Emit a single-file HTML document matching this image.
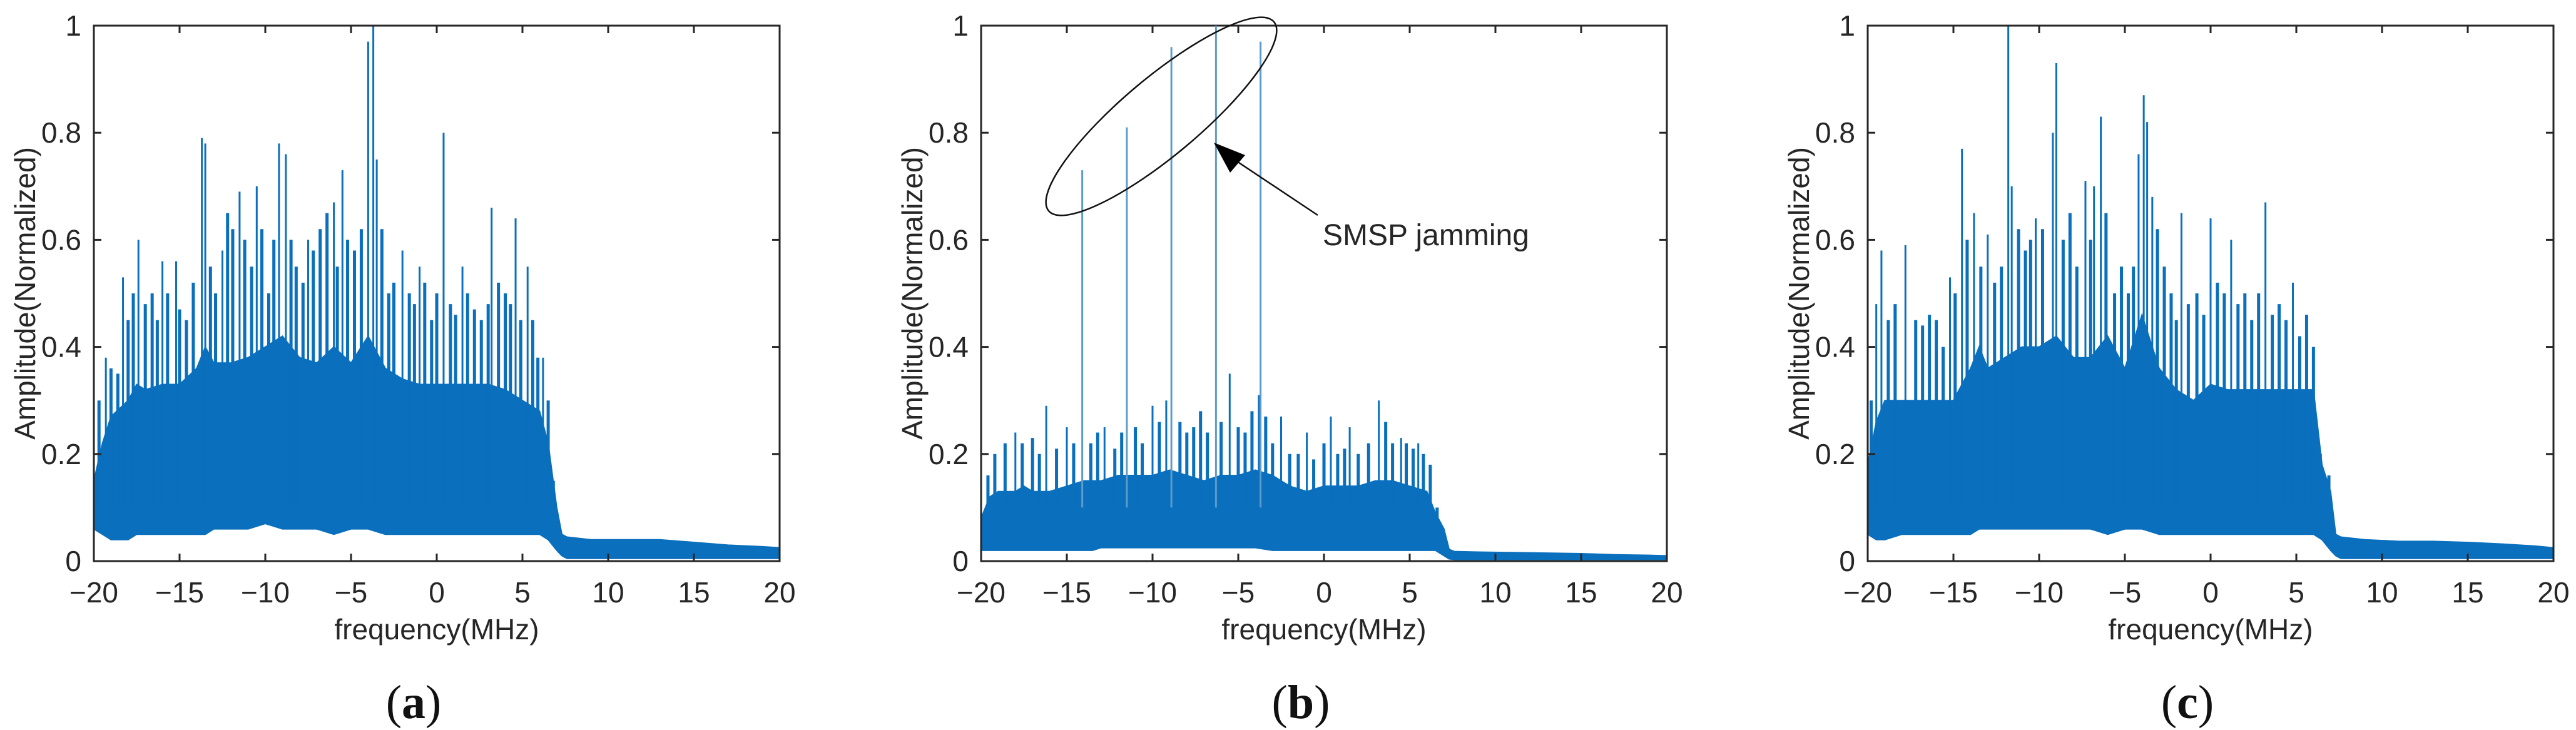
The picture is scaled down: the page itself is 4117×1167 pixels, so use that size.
<!DOCTYPE html>
<html><head><meta charset="utf-8"><style>
html,body{margin:0;padding:0;background:#fff;}
svg{display:block;}
text{font-family:"Liberation Sans",sans-serif;fill:#262626;}
text.cap{font-family:"Liberation Serif",serif;fill:#111;}
</style></head><body>
<svg id="fig" width="4117" height="1167" viewBox="0 0 4117 1167" xmlns="http://www.w3.org/2000/svg"></svg>
<script>
// ---- data ----
const xTicks = [-20,-15,-10,-5,0,5,10,15,20];
const yTicks = [0,0.2,0.4,0.6,0.8,1];
const yTickLabels = ["0","0.2","0.4","0.6","0.8","1"];
const envFreq = [-20,-19.5,-19,-18,-17.5,-17,-16,-15,-14,-13.5,-13,-12,-11,-10,-9,-8,-7,-6,-5,-4,-3,-2,-1,0,1,2,3,4,5,6,6.5,7,7.3,7.6,9,11,13,15,17,19,20];
const topA = [0.15,0.22,0.27,0.3,0.33,0.32,0.33,0.33,0.36,0.4,0.37,0.37,0.38,0.4,0.42,0.38,0.37,0.4,0.37,0.42,0.36,0.34,0.33,0.33,0.33,0.33,0.33,0.32,0.3,0.28,0.22,0.1,0.05,0.045,0.04,0.04,0.04,0.035,0.03,0.027,0.025];
const botA = [0.06,0.05,0.04,0.04,0.05,0.05,0.05,0.05,0.05,0.05,0.06,0.06,0.06,0.07,0.06,0.06,0.06,0.05,0.06,0.06,0.05,0.05,0.05,0.05,0.05,0.05,0.05,0.05,0.05,0.05,0.04,0.02,0.01,0.005,0.005,0.005,0.005,0.005,0.005,0.005,0.005];
const topB = [0.08,0.12,0.13,0.13,0.14,0.13,0.13,0.14,0.15,0.15,0.15,0.16,0.16,0.16,0.17,0.16,0.15,0.16,0.16,0.17,0.16,0.14,0.13,0.14,0.14,0.14,0.15,0.15,0.14,0.13,0.09,0.06,0.022,0.018,0.017,0.016,0.015,0.014,0.012,0.011,0.01];
const botB = [0.02,0.02,0.02,0.02,0.02,0.02,0.02,0.02,0.02,0.02,0.025,0.025,0.025,0.025,0.025,0.025,0.025,0.025,0.025,0.025,0.02,0.02,0.02,0.02,0.02,0.02,0.02,0.02,0.02,0.02,0.02,0.01,0.004,0.003,0.003,0.003,0.003,0.003,0.003,0.003,0.003];
const topC = [0.18,0.26,0.3,0.3,0.3,0.3,0.3,0.3,0.36,0.4,0.36,0.38,0.4,0.4,0.42,0.38,0.38,0.42,0.36,0.46,0.36,0.32,0.3,0.33,0.32,0.32,0.32,0.32,0.32,0.32,0.18,0.13,0.05,0.045,0.04,0.037,0.037,0.035,0.032,0.028,0.025];
const botC = [0.05,0.04,0.04,0.05,0.05,0.05,0.05,0.05,0.05,0.06,0.06,0.06,0.06,0.06,0.06,0.06,0.06,0.05,0.06,0.06,0.05,0.05,0.05,0.05,0.05,0.05,0.05,0.05,0.05,0.05,0.04,0.02,0.01,0.005,0.005,0.005,0.005,0.005,0.005,0.005,0.005];
const spikeFreqA = [-19.3,-18.3,-17.4,-16,-15.2,-13.7,-13.5,-12.5,-11.5,-10.5,-9.2,-8.8,-7.5,-6,-5.5,-4,-3.7,-3.5,-2,-1,0.4,1.5,3.2,4.6,5.3,6.2];
const spikeAmpA  = [0.38,0.53,0.60,0.56,0.56,0.79,0.78,0.58,0.69,0.70,0.78,0.76,0.60,0.67,0.73,0.97,1.0,0.75,0.58,0.55,0.80,0.55,0.66,0.64,0.55,0.38];
const midFreqA = [-19.7,-19,-18.6,-18,-17.7,-17,-16.6,-16.3,-15.7,-15,-14.6,-14.2,-13.2,-12.9,-12.2,-11.9,-11.2,-10.8,-10.2,-9.8,-9.5,-8.5,-8.2,-7.8,-7.2,-6.8,-6.4,-5.8,-5.2,-4.8,-4.4,-3.2,-2.8,-2.5,-1.6,-1.3,-0.7,-0.3,0,0.8,1.1,1.8,2.2,2.6,3,3.6,4,4.3,4.9,5.6,5.9,6.5,6.8];
const midAmpA  = [0.3,0.36,0.35,0.45,0.5,0.48,0.5,0.45,0.5,0.47,0.45,0.52,0.55,0.5,0.65,0.62,0.6,0.55,0.62,0.5,0.6,0.6,0.55,0.52,0.58,0.62,0.65,0.55,0.6,0.58,0.62,0.62,0.5,0.52,0.5,0.48,0.52,0.45,0.5,0.48,0.46,0.5,0.47,0.45,0.48,0.52,0.5,0.48,0.45,0.45,0.38,0.3,0.15];
const spikeFreqB = [-18,-16.2,-15,-12.8,-10,-9.2,-5.5,-3.8,-2.5,-1,0.4,1.5,3.2,4.5,5.5];
const spikeAmpB  = [0.24,0.29,0.25,0.25,0.29,0.30,0.35,0.31,0.27,0.24,0.27,0.25,0.30,0.23,0.22];
const midFreqB = [-19.6,-19.2,-18.6,-17.6,-17,-16.6,-15.6,-14.6,-13.6,-13.2,-12.2,-11.8,-11,-10.6,-9.6,-8.4,-8,-7.6,-7.2,-6.8,-6,-5,-4.6,-4.2,-3.4,-3,-2,-1.5,-0.6,0,0.8,1.2,2,2.6,3.6,4,4.8,5.2,5.8,6.2,6.6];
const midAmpB  = [0.16,0.2,0.22,0.22,0.23,0.2,0.21,0.22,0.22,0.24,0.21,0.24,0.25,0.22,0.26,0.26,0.24,0.25,0.28,0.24,0.26,0.25,0.24,0.28,0.27,0.22,0.2,0.2,0.19,0.22,0.2,0.21,0.2,0.22,0.26,0.22,0.22,0.21,0.2,0.18,0.08];
const jamFreqB = [-14.1,-11.5,-8.9,-6.3,-3.7];
const jamAmpB  = [0.73,0.81,0.96,1.0,0.97];
const spikeFreqC = [-19.5,-19.2,-17.8,-15.2,-14.5,-13.8,-13,-11.8,-11.6,-10.2,-9.2,-9,-7.3,-6.8,-6.4,-4.2,-3.9,-3.7,-3.4,-1.7,0,1.2,3.2,4.8];
const spikeAmpC  = [0.48,0.58,0.59,0.53,0.77,0.65,0.61,1.0,0.70,0.64,0.80,0.93,0.71,0.70,0.83,0.76,0.87,0.82,0.68,0.65,0.64,0.60,0.67,0.52];
const midFreqC = [-19.8,-18.8,-18.4,-17.2,-16.8,-16.4,-16,-15.6,-14.9,-14.2,-13.4,-12.6,-12.2,-11.2,-10.8,-10.5,-9.8,-8.6,-8.2,-7.8,-7,-6.1,-5.6,-5.2,-4.8,-4.5,-3.1,-2.7,-2.3,-2,-1.3,-0.8,-0.4,0.4,0.8,1.6,2,2.4,2.8,3.6,4,4.4,5.2,5.6,6,6.4,6.9];
const midAmpC  = [0.3,0.45,0.48,0.45,0.44,0.46,0.45,0.4,0.5,0.6,0.55,0.52,0.55,0.62,0.58,0.6,0.62,0.6,0.65,0.55,0.6,0.65,0.5,0.55,0.5,0.55,0.62,0.55,0.5,0.45,0.48,0.5,0.46,0.52,0.5,0.48,0.5,0.45,0.5,0.46,0.48,0.45,0.42,0.46,0.4,0.2,0.16];

// ---- layout ----
const NS = "http://www.w3.org/2000/svg";
const svg = document.getElementById('fig');
const PW = 1096, TOP = 41, BOT = 897;
const BLUE = "#0a6fbd";
function mk(tag, attrs, parent){ const e=document.createElementNS(NS,tag); for(const k in attrs) e.setAttribute(k,attrs[k]); (parent||svg).appendChild(e); return e; }

function panel(id, left, top, bot, spF, spA, mF, mA, caption){
  const g = mk('g',{});
  
  
  const sx = v => left + (v+20)/40*PW;
  const sy = v => BOT - v*(BOT-TOP);
  let pts = envFreq.map((f,i)=>sx(f)+','+sy(top[i]));
  for(let i=envFreq.length-1;i>=0;i--) pts.push(sx(envFreq[i])+','+sy(bot[i]));
  const body = mk('polygon',{points:pts.join(' '),fill:BLUE,stroke:BLUE,'stroke-width':2},g);
  
  
  mF.forEach((f,i)=>{
    const l = mk('line',{x1:sx(f),x2:sx(f),y1:sy(0.1),y2:sy(mA[i]),stroke:BLUE,'stroke-width':5},g);
    
    
  });
  spF.forEach((f,i)=>{
    const l = mk('line',{x1:sx(f),x2:sx(f),y1:sy(0.1),y2:sy(spA[i]),stroke:BLUE,'stroke-width':3},g);
    
    
  });
  const box = mk('rect',{x:left,y:TOP,width:PW,height:BOT-TOP,fill:'none',stroke:'#262626','stroke-width':3},g);
  
  
  xTicks.forEach(t=>{
    const x=sx(t);
    mk('line',{x1:x,x2:x,y1:BOT,y2:BOT-12,stroke:'#262626','stroke-width':3},g);
    mk('line',{x1:x,x2:x,y1:TOP,y2:TOP+12,stroke:'#262626','stroke-width':3},g);
    const tx = mk('text',{x:x,y:963,'font-size':46,'text-anchor':'middle'},g);
    tx.textContent = (t<0?'\u2212'+(-t):String(t));
    
    
  });
  yTicks.forEach((t,i)=>{
    const y=sy(t);
    mk('line',{x1:left,x2:left+12,y1:y,y2:y,stroke:'#262626','stroke-width':3},g);
    mk('line',{x1:left+PW,x2:left+PW-12,y1:y,y2:y,stroke:'#262626','stroke-width':3},g);
    const ty = mk('text',{x:left-20,y:y+16,'font-size':46,'text-anchor':'end'},g);
    ty.textContent = yTickLabels[i];
    
    
  });
  const xl = mk('text',{x:left+PW/2,y:1022,'font-size':46,'text-anchor':'middle'},g);
  xl.textContent='frequency(MHz)';
  
  
  const yl = mk('text',{x:0,y:0,'font-size':46,'text-anchor':'middle',transform:`translate(${left-94},${(TOP+BOT)/2}) rotate(-90)`},g);
  yl.textContent='Amplitude(Normalized)';
  
  
  const cap = mk('text',{x:left+PW/2-37,y:1148,'font-size':76,'text-anchor':'middle','class':'cap'},g);
  cap.innerHTML = '(<tspan font-weight="bold">'+caption+'</tspan>)';
  
  
  return {g,sx,sy};
}

const pa = panel('a',150,topA,botA,spikeFreqA,spikeAmpA,midFreqA,midAmpA,'a');
const pb = panel('b',1568,topB,botB,spikeFreqB,spikeAmpB,midFreqB,midAmpB,'b');
const pc = panel('c',2985,topC,botC,spikeFreqC,spikeAmpC,midFreqC,midAmpC,'c');

jamFreqB.forEach((f,i)=>{
  const l = mk('line',{x1:pb.sx(f),x2:pb.sx(f),y1:pb.sy(0.1),y2:pb.sy(jamAmpB[i]),stroke:'#5d9cc9','stroke-width':3});
  
  
});
const ell = mk('ellipse',{cx:1856,cy:186,rx:235,ry:62,fill:'none',stroke:'#111','stroke-width':2.5,transform:'rotate(-40 1856 186)'});


const arr = mk('line',{x1:2106,x2:1962,y1:344,y2:248,stroke:'#111','stroke-width':2.5});


const head = mk('polygon',{points:'1940,228 1990,248 1966,276',fill:'#000'});


const ann = mk('text',{x:2114,y:392,'font-size':48});
ann.textContent='SMSP jamming';


</script>
</body></html>
